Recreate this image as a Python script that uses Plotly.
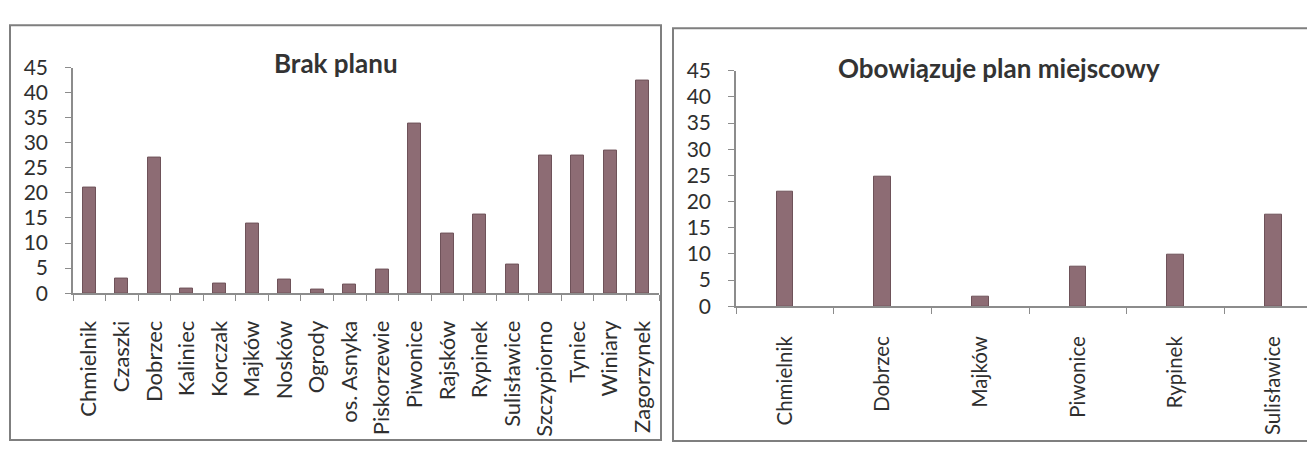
import plotly.graph_objects as go

W, H = 1307, 453

# ---- data ----
left_categories = ["Chmielnik", "Czaszki", "Dobrzec", "Kaliniec", "Korczak", "Majków",
                   "Nosków", "Ogrody", "os. Asnyka", "Piskorzewie", "Piwonice", "Rajsków",
                   "Rypinek", "Sulisławice", "Szczypiorno", "Tyniec", "Winiary", "Zagorzynek"]
left_values = [21.0, 3.0, 27.0, 0.9, 1.9, 13.9, 2.8, 0.7, 1.8, 4.8, 33.8, 11.9,
               15.6, 5.7, 27.5, 27.4, 28.5, 42.5]

right_categories = ["Chmielnik", "Dobrzec", "Majków", "Piwonice", "Rypinek", "Sulisławice"]
right_values = [21.8, 24.8, 1.8, 7.6, 9.8, 17.5]

left_title = "Brak planu"
right_title = "Obowiązuje plan miejscowy"
y_ticks = [0, 5, 10, 15, 20, 25, 30, 35, 40, 45]

# ---- style ----
FONT = "Lato"
TXT = "#2f2f2f"
AX = "#8c8c8c"
BAR = "#8d6c74"
BAR_EDGE = "#6e5259"


def px_x(p):
    return p / W


def px_y(p):
    return 1 - p / H


fig = go.Figure()
fig.add_trace(go.Bar(x=left_categories, y=left_values, width=0.4,
                     marker=dict(color=BAR, line=dict(color=BAR_EDGE, width=1)),
                     xaxis="x", yaxis="y", showlegend=False))
fig.add_trace(go.Bar(x=right_categories, y=right_values, width=0.17,
                     marker=dict(color=BAR, line=dict(color=BAR_EDGE, width=1)),
                     xaxis="x2", yaxis="y2", showlegend=False))

xcommon = dict(type="category", showline=True, linecolor=AX, linewidth=1.5,
               ticks="outside", tickson="boundaries", ticklen=6, tickcolor=AX,
               tickangle=-90, showgrid=False, zeroline=False)
ycommon = dict(range=[0, 45], tickvals=y_ticks, showline=True, linecolor=AX,
               linewidth=1.5, ticks="outside", ticklen=6, tickcolor=AX,
               showgrid=False, zeroline=False, ticklabelstandoff=13,
               tickfont=dict(family=FONT, size=21, color=TXT))

fig.update_layout(
    width=W, height=H,
    margin=dict(l=0, r=0, t=0, b=0),
    paper_bgcolor="white", plot_bgcolor="white",
    bargap=0,
    xaxis=dict(**xcommon, domain=[px_x(73), px_x(659)], anchor="y",
               range=[-0.5, len(left_categories) - 0.5], ticklabelstandoff=17,
               tickfont=dict(family=FONT, size=22, color=TXT)),
    yaxis=dict(**ycommon, domain=[px_y(295.5), px_y(56.7)], anchor="x"),
    xaxis2=dict(**xcommon, domain=[px_x(736), 1.0], anchor="y2",
                range=[-0.5, 5.344], ticklabelstandoff=20,
                tickfont=dict(family=FONT, size=20.5, color=TXT)),
    yaxis2=dict(**ycommon, domain=[px_y(309.3), px_y(60)], anchor="x2"),
    annotations=[
        dict(text=left_title, x=px_x(336), y=px_y(52), xref="paper", yref="paper",
             xanchor="center", yanchor="middle", showarrow=False,
             font=dict(family=FONT, size=26, color="#333333", weight="bold")),
        dict(text=right_title, x=px_x(999), y=px_y(57), xref="paper", yref="paper",
             xanchor="center", yanchor="middle", showarrow=False,
             font=dict(family=FONT, size=26, color="#333333", weight="bold")),
    ],
    shapes=[
        dict(type="rect", xref="paper", yref="paper",
             x0=px_x(10), x1=px_x(661), y0=px_y(451), y1=px_y(12),
             line=dict(color="#7f7f7f", width=2)),
        dict(type="rect", xref="paper", yref="paper",
             x0=px_x(673), x1=px_x(1330), y0=px_y(452), y1=px_y(15),
             line=dict(color="#7f7f7f", width=2)),
    ],
)

fig.write_html("out.html")
